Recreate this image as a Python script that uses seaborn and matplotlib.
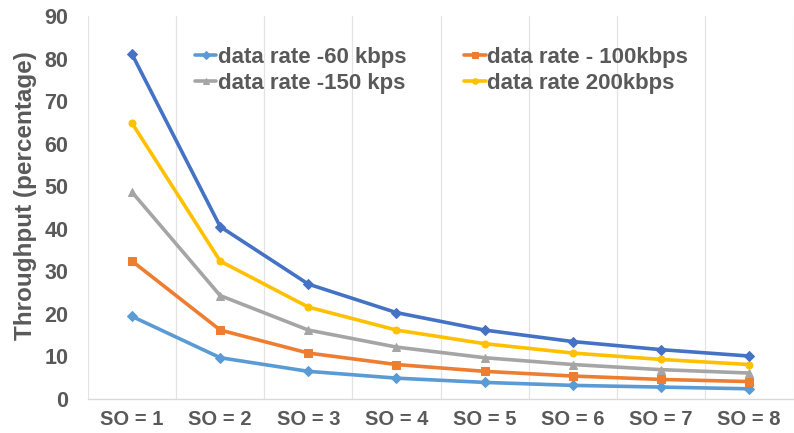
import matplotlib
matplotlib.use("Agg")
import matplotlib.pyplot as plt
import seaborn as sns
import pandas as pd
import numpy as np

categories = ["SO = 1", "SO = 2", "SO = 3", "SO = 4", "SO = 5", "SO = 6", "SO = 7", "SO = 8"]
rate_60 = [19.4, 9.7, 6.5, 4.9, 3.9, 3.2, 2.8, 2.4]
rate_100 = [32.4, 16.2, 10.8, 8.1, 6.5, 5.4, 4.6, 4.1]
rate_150 = [48.6, 24.3, 16.2, 12.2, 9.7, 8.1, 6.9, 6.1]
rate_200 = [64.8, 32.4, 21.6, 16.2, 13.0, 10.8, 9.3, 8.1]
rate_top = [81.0, 40.5, 27.0, 20.3, 16.2, 13.5, 11.6, 10.1]

series = [
    ("data rate -60 kbps", rate_60, "#5B9BD5", "D", 5),
    ("data rate - 100kbps", rate_100, "#ED7D31", "s", 6),
    ("data rate -150 kps", rate_150, "#A5A5A5", "^", 6),
    ("data rate 200kbps", rate_200, "#FFC000", "o", 5),
    ("_nolegend_", rate_top, "#4472C4", "D", 5),
]

sns.set_style("white")
plt.rcParams["font.family"] = ["Liberation Sans", "DejaVu Sans"]
plt.rcParams["font.weight"] = "bold"

fig = plt.figure(figsize=(7.94, 4.33), dpi=100)
ax = fig.add_axes([88 / 794, 34 / 433, 705 / 794, 383 / 433])

x = np.arange(len(categories))
for label, vals, color, marker, ms in series:
    df = pd.DataFrame({"x": x, "y": vals})
    sns.lineplot(data=df, x="x", y="y", ax=ax, color=color, marker=marker,
                 markersize=ms, markeredgecolor=color, linewidth=2.6, label=label,
                 legend=False)

ax.set_xlim(-0.5, len(categories) - 0.5)
ax.set_ylim(0, 90)
ax.set_yticks(np.arange(0, 91, 10))
ax.set_xticks(x)
ax.set_xticklabels(categories)
ax.set_xticks(np.arange(-0.5, len(categories), 1), minor=True)
ax.grid(False)
ax.grid(True, which="minor", axis="x", color="#E3E3E3", linewidth=0.9)
ax.tick_params(axis="both", which="both", length=0)
ax.tick_params(axis="x", which="major", pad=8, labelsize=14.5, labelcolor="#595959")
ax.tick_params(axis="y", which="major", pad=14, labelsize=15.5, labelcolor="#595959")
for s in ["top", "right", "left"]:
    ax.spines[s].set_visible(False)
ax.spines["bottom"].set_color("#D9D9D9")
ax.spines["bottom"].set_linewidth(1.0)
ax.set_xlabel("")
ax.set_ylabel("Throughput (percentage)", fontsize=17.5, fontweight="bold", color="#595959")
ax.yaxis.set_label_coords(-0.073, 0.53)

handles, labels = ax.get_legend_handles_labels()
order = [0, 2, 1, 3]
leg = ax.legend([handles[i] for i in order], [labels[i] for i in order],
                loc="upper left", bbox_to_anchor=(0.127, 0.965), ncol=2,
                frameon=False, handlelength=0.95, handletextpad=0.08, columnspacing=2.6,
                labelspacing=0.2, borderpad=0.3, prop={"size": 16, "weight": "bold"})
for t in leg.get_texts():
    t.set_color("#595959")
for h in leg.legend_handles:
    h.set_markersize(4)

fig.savefig("out.png", dpi=100)
